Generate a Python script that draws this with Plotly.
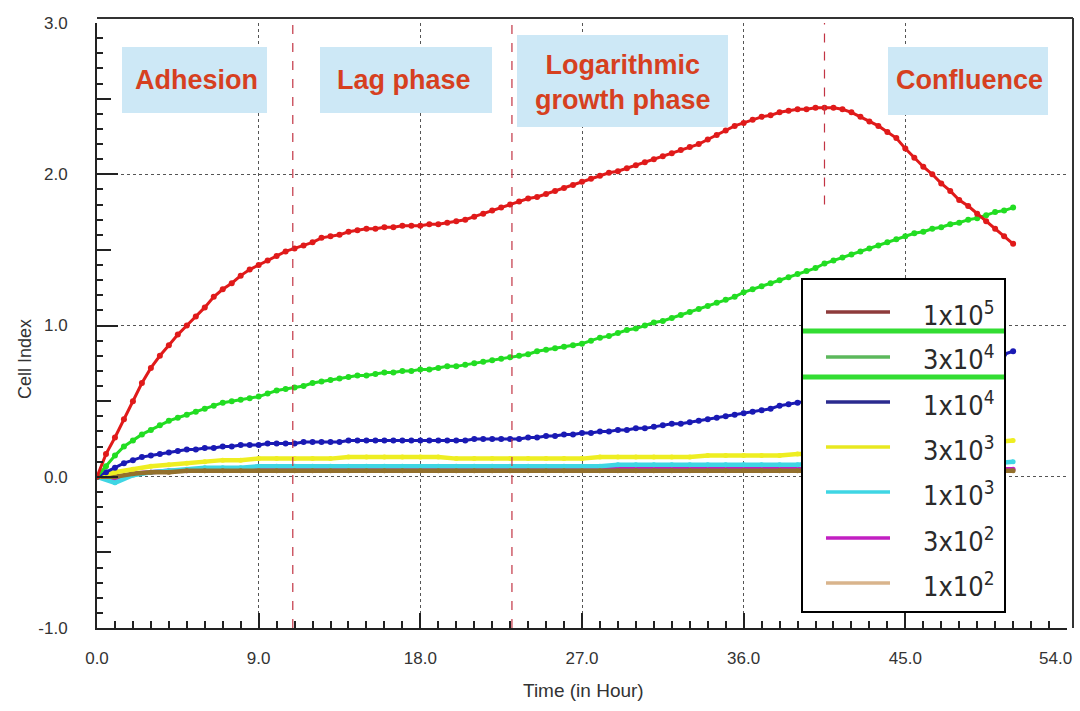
import plotly.graph_objects as go

# ---- measurement data -------------------------------------------------------
# Cell index readings for the three densest seedings (every 0.5 h, 0 .. 51 h)
t_half = [i * 0.5 for i in range(103)]
ci_1e5 = [0.00, 0.15, 0.26, 0.38, 0.50, 0.62, 0.72, 0.80, 0.87, 0.94,
          1.00, 1.06, 1.12, 1.19, 1.24, 1.28, 1.33, 1.37, 1.40, 1.43,
          1.46, 1.49, 1.51, 1.53, 1.55, 1.58, 1.59, 1.60, 1.62, 1.63,
          1.64, 1.64, 1.65, 1.65, 1.66, 1.66, 1.66, 1.67, 1.67, 1.68,
          1.69, 1.70, 1.72, 1.74, 1.76, 1.78, 1.80, 1.82, 1.84, 1.85,
          1.87, 1.89, 1.91, 1.93, 1.95, 1.97, 1.99, 2.01, 2.02, 2.04,
          2.06, 2.08, 2.10, 2.12, 2.14, 2.16, 2.18, 2.20, 2.23, 2.26,
          2.29, 2.32, 2.34, 2.36, 2.38, 2.39, 2.41, 2.42, 2.43, 2.43,
          2.44, 2.44, 2.44, 2.43, 2.41, 2.38, 2.35, 2.32, 2.28, 2.24,
          2.17, 2.11, 2.05, 2.00, 1.94, 1.89, 1.83, 1.79, 1.74, 1.69,
          1.64, 1.59, 1.54]
ci_3e4 = [0.00, 0.07, 0.14, 0.20, 0.24, 0.28, 0.31, 0.34, 0.37, 0.39,
          0.41, 0.43, 0.45, 0.47, 0.49, 0.50, 0.51, 0.52, 0.53, 0.55,
          0.57, 0.58, 0.59, 0.60, 0.62, 0.63, 0.64, 0.65, 0.66, 0.67,
          0.67, 0.68, 0.69, 0.69, 0.70, 0.70, 0.71, 0.71, 0.72, 0.73,
          0.73, 0.74, 0.75, 0.76, 0.77, 0.78, 0.79, 0.80, 0.81, 0.83,
          0.84, 0.85, 0.86, 0.87, 0.88, 0.90, 0.92, 0.93, 0.95, 0.97,
          0.98, 1.00, 1.02, 1.03, 1.05, 1.07, 1.09, 1.11, 1.13, 1.15,
          1.17, 1.19, 1.22, 1.24, 1.26, 1.28, 1.30, 1.32, 1.34, 1.36,
          1.38, 1.41, 1.43, 1.45, 1.47, 1.49, 1.51, 1.53, 1.55, 1.57,
          1.59, 1.61, 1.62, 1.64, 1.65, 1.67, 1.68, 1.70, 1.71, 1.73,
          1.75, 1.76, 1.78]
ci_1e4 = [0.00, 0.03, 0.06, 0.09, 0.11, 0.13, 0.14, 0.15, 0.16, 0.17,
          0.18, 0.18, 0.19, 0.19, 0.20, 0.20, 0.21, 0.21, 0.21, 0.22,
          0.22, 0.22, 0.22, 0.23, 0.23, 0.23, 0.23, 0.23, 0.24, 0.24,
          0.24, 0.24, 0.24, 0.24, 0.24, 0.24, 0.24, 0.24, 0.24, 0.24,
          0.24, 0.24, 0.25, 0.25, 0.25, 0.25, 0.25, 0.25, 0.26, 0.26,
          0.27, 0.27, 0.28, 0.28, 0.29, 0.29, 0.30, 0.30, 0.31, 0.31,
          0.32, 0.32, 0.33, 0.34, 0.35, 0.35, 0.36, 0.37, 0.38, 0.39,
          0.40, 0.41, 0.42, 0.43, 0.44, 0.45, 0.47, 0.48, 0.49, 0.50,
          0.52, 0.53, 0.55, 0.56, 0.58, 0.59, 0.61, 0.62, 0.64, 0.65,
          0.67, 0.68, 0.70, 0.71, 0.72, 0.74, 0.75, 0.76, 0.77, 0.79,
          0.80, 0.81, 0.83]

# Low seedings, hourly readings (0 .. 51 h)
t_hour = list(range(52))
ci_3e3 = [0.00, 0.03, 0.05, 0.07, 0.08, 0.09, 0.10, 0.11, 0.11, 0.12,
          0.12, 0.12, 0.12, 0.12, 0.13, 0.13, 0.13, 0.13, 0.13, 0.13,
          0.12, 0.12, 0.12, 0.12, 0.12, 0.12, 0.12, 0.12, 0.13, 0.13,
          0.13, 0.13, 0.13, 0.13, 0.14, 0.14, 0.14, 0.14, 0.14, 0.15,
          0.15, 0.16, 0.16, 0.17, 0.17, 0.18, 0.19, 0.20, 0.21, 0.22,
          0.23, 0.24]
ci_1e3 = [0.00, -0.04, 0.01, 0.03, 0.04, 0.05, 0.06, 0.06, 0.06, 0.07,
          0.07, 0.07, 0.07, 0.07, 0.07, 0.07, 0.07, 0.07, 0.07, 0.07,
          0.07, 0.07, 0.07, 0.07, 0.07, 0.07, 0.07, 0.07, 0.07, 0.08,
          0.08, 0.08, 0.08, 0.08, 0.08, 0.08, 0.08, 0.08, 0.08, 0.08,
          0.09, 0.09, 0.09, 0.09, 0.09, 0.09, 0.09, 0.09, 0.09, 0.09,
          0.09, 0.10]
ci_3e2 = [0.00, -0.02, 0.02, 0.03, 0.04, 0.04, 0.05, 0.05, 0.05, 0.05,
          0.05, 0.05, 0.05, 0.05, 0.05, 0.05, 0.05, 0.05, 0.05, 0.05,
          0.05, 0.05, 0.05, 0.05, 0.05, 0.05, 0.05, 0.05, 0.05, 0.05,
          0.05, 0.05, 0.05, 0.05, 0.05, 0.05, 0.05, 0.05, 0.05, 0.05,
          0.05, 0.05, 0.05, 0.05, 0.05, 0.05, 0.05, 0.05, 0.05, 0.05,
          0.05, 0.05]
ci_1e2 = [0.00, 0.00, 0.02, 0.03, 0.03, 0.04, 0.04, 0.04, 0.04, 0.04,
          0.04, 0.04, 0.04, 0.04, 0.04, 0.04, 0.04, 0.04, 0.04, 0.04,
          0.04, 0.04, 0.04, 0.04, 0.04, 0.04, 0.04, 0.04, 0.04, 0.04,
          0.04, 0.04, 0.04, 0.04, 0.04, 0.04, 0.04, 0.04, 0.04, 0.04,
          0.04, 0.04, 0.04, 0.04, 0.04, 0.04, 0.04, 0.04, 0.04, 0.04,
          0.04, 0.04]

# axis ticks
x_tick_vals = [0, 9, 18, 27, 36, 45, 54]
x_tick_text = ["0.0", "9.0", "18.0", "27.0", "36.0", "45.0", "54.0"]
y_tick_vals = [-1, 0, 1, 2, 3]
y_tick_text = ["-1.0", "0.0", "1.0", "2.0", "3.0"]

legend_labels = ["1x10<sup>5</sup>", "3x10<sup>4</sup>", "1x10<sup>4</sup>",
                 "3x10<sup>3</sup>", "1x10<sup>3</sup>", "3x10<sup>2</sup>",
                 "1x10<sup>2</sup>"]
legend_colors = ["#8e3b3b", "#5cb85c", "#2b2b8f", "#e8e820",
                 "#3fd6e4", "#c21fc2", "#d9b48c"]

phase_names = ["Adhesion", "Lag phase", "Logarithmic<br>growth phase", "Confluence"]
phase_bounds = [10.9, 23.1, 40.5]
phase3_end_ci = 1.8

# ---- figure -----------------------------------------------------------------
fig = go.Figure()

curve_specs = [
    (t_hour, ci_3e2, "#c21fc2", 4.5, 5),
    (t_hour, ci_1e3, "#3fd6e4", 4.5, 5),
    (t_hour, ci_1e2, "#93702c", 4.5, 5),
    (t_hour, ci_3e3, "#eeee22", 4.5, 5),
    (t_half, ci_1e4, "#1a1ab4", 3, 6),
    (t_half, ci_3e4, "#22dd22", 3, 6),
    (t_half, ci_1e5, "#e01a1a", 3, 6),
]
for xs, ys, col, lw, ms in curve_specs:
    fig.add_trace(go.Scatter(x=xs, y=ys, mode="lines+markers",
                             line=dict(color=col, width=lw),
                             marker=dict(color=col, size=ms),
                             showlegend=False, hoverinfo="skip"))

# helper trace so the half-step tick axis is rendered
fig.add_trace(go.Scatter(x=[None], y=[None], yaxis="y2", showlegend=False))

# pixel -> paper helpers for the plot frame (plot area 97..1067 x 23..628)
def px_x(p):
    return (p - 97) / 970.0


def px_y(p):
    return (628 - p) / 605.0


shapes = []
# phase boundaries
for i, b in enumerate(phase_bounds):
    shapes.append(dict(type="line", xref="x", yref="y", x0=b, x1=b,
                       y0=-1 if i < 2 else phase3_end_ci, y1=3,
                       line=dict(color="#c23444", width=1.2, dash="dash"),
                       layer="above"))

# outer frame (top and right)
shapes.append(dict(type="line", xref="paper", yref="paper",
                   x0=0, x1=px_x(1073), y0=px_y(18), y1=px_y(18),
                   line=dict(color="#333", width=2)))
shapes.append(dict(type="line", xref="paper", yref="paper",
                   x0=px_x(1073), x1=px_x(1073), y0=0, y1=px_y(18),
                   line=dict(color="#333", width=2)))

# phase label boxes
boxes = [(122, 47, 267, 113), (320, 47, 492, 113),
         (517, 35, 728, 127), (888, 47, 1048, 115)]
for (x0, y0, x1, y1) in boxes:
    shapes.append(dict(type="rect", xref="paper", yref="paper",
                       x0=px_x(x0), x1=px_x(x1), y0=px_y(y1), y1=px_y(y0),
                       fillcolor="#cde8f6", line=dict(width=0), layer="above"))

# legend box
shapes.append(dict(type="rect", xref="paper", yref="paper",
                   x0=px_x(802), x1=px_x(1005), y0=px_y(612), y1=px_y(279),
                   fillcolor="white", line=dict(color="black", width=2),
                   layer="above"))
row_y = [312, 357, 402, 447, 492, 538, 583]
for ry, col in zip(row_y, legend_colors):
    shapes.append(dict(type="line", xref="paper", yref="paper",
                       x0=px_x(826), x1=px_x(890), y0=px_y(ry), y1=px_y(ry),
                       line=dict(color=col, width=3.5), layer="above"))
for gy in (331, 377):
    shapes.append(dict(type="line", xref="paper", yref="paper",
                       x0=px_x(803), x1=px_x(1004), y0=px_y(gy), y1=px_y(gy),
                       line=dict(color="#33dd33", width=5), layer="above"))

annotations = []
label_pos = [(196, 80), (404, 80), (623, 82), (969, 80)]
for name, (cx, cy) in zip(phase_names, label_pos):
    annotations.append(dict(xref="paper", yref="paper", x=px_x(cx), y=px_y(cy),
                            text="<b>%s</b>" % name, showarrow=False,
                            xanchor="center", yanchor="middle",
                            font=dict(family="Liberation Sans, Arial", size=27,
                                      color="#d6401f")))
for ry, lab in zip(row_y, legend_labels):
    annotations.append(dict(xref="paper", yref="paper", x=px_x(997), y=px_y(ry + 1),
                            text=lab, showarrow=False, xanchor="right",
                            yanchor="middle",
                            font=dict(family="DejaVu Sans Condensed, Liberation Sans, Arial",
                                      size=27, color="#2a2a2a")))
annotations.append(dict(xref="paper", yref="paper", x=px_x(583), y=px_y(690),
                        text="Time (in Hour)", showarrow=False,
                        xanchor="center", yanchor="middle",
                        font=dict(family="Liberation Sans, Arial", size=19, color="#333")))
annotations.append(dict(xref="paper", yref="paper", x=px_x(25), y=px_y(359),
                        text="Cell Index", showarrow=False, textangle=-90,
                        xanchor="center", yanchor="middle",
                        font=dict(family="Liberation Sans, Arial", size=18, color="#333")))

tick_font = dict(family="Liberation Sans, Arial", size=17, color="#333")

# last x label is pulled in from the page edge and drawn on its own
axis_tick_text = x_tick_text[:-1] + [""]
annotations.append(dict(xref="paper", yref="paper", x=px_x(1074), y=px_y(658),
                        text=x_tick_text[-1], showarrow=False,
                        xanchor="right", yanchor="middle", font=tick_font))

fig.update_layout(
    width=1080, height=711, autosize=False,
    margin=dict(l=97, r=13, t=23, b=83, autoexpand=False),
    paper_bgcolor="white", plot_bgcolor="white",
    showlegend=False,
    shapes=shapes, annotations=annotations,
    xaxis=dict(range=[0, 54.0005], tickmode="array", tickvals=x_tick_vals,
               ticktext=axis_tick_text, ticklabeloverflow="allow", automargin=False,
               ticks="inside", ticklen=15, tickwidth=1.5, tickcolor="#222",
               showline=True, linecolor="#222", linewidth=2,
               showgrid=True, gridcolor="#555", griddash="dot", gridwidth=1.2,
               zeroline=False, tickfont=tick_font, ticklabelstandoff=14,
               minor=dict(tickmode="linear", tick0=0, dtick=1, ticks="inside",
                          ticklen=7, tickwidth=1.5, tickcolor="#222", showgrid=False)),
    yaxis=dict(range=[-1, 3.0005], tickmode="array", tickvals=y_tick_vals,
               ticktext=y_tick_text, ticklabeloverflow="allow", automargin=False,
               ticks="inside", ticklen=21, tickwidth=1.5, tickcolor="#222",
               showline=True, linecolor="#222", linewidth=2,
               showgrid=True, gridcolor="#555", griddash="dot", gridwidth=1.2,
               zeroline=False, tickfont=tick_font, ticklabelstandoff=24,
               minor=dict(tickmode="linear", tick0=0, dtick=0.1, ticks="inside",
                          ticklen=6, tickwidth=1.5, tickcolor="#222", showgrid=False)),
    yaxis2=dict(overlaying="y", side="left", range=[-1, 3.0005], automargin=False,
                tickmode="array", tickvals=[-0.5, 0.5, 1.5, 2.5],
                ticks="inside", ticklen=14, tickwidth=1.5, tickcolor="#222",
                showticklabels=False, showgrid=False, zeroline=False,
                showline=False),
)

fig.write_html("out.html")
